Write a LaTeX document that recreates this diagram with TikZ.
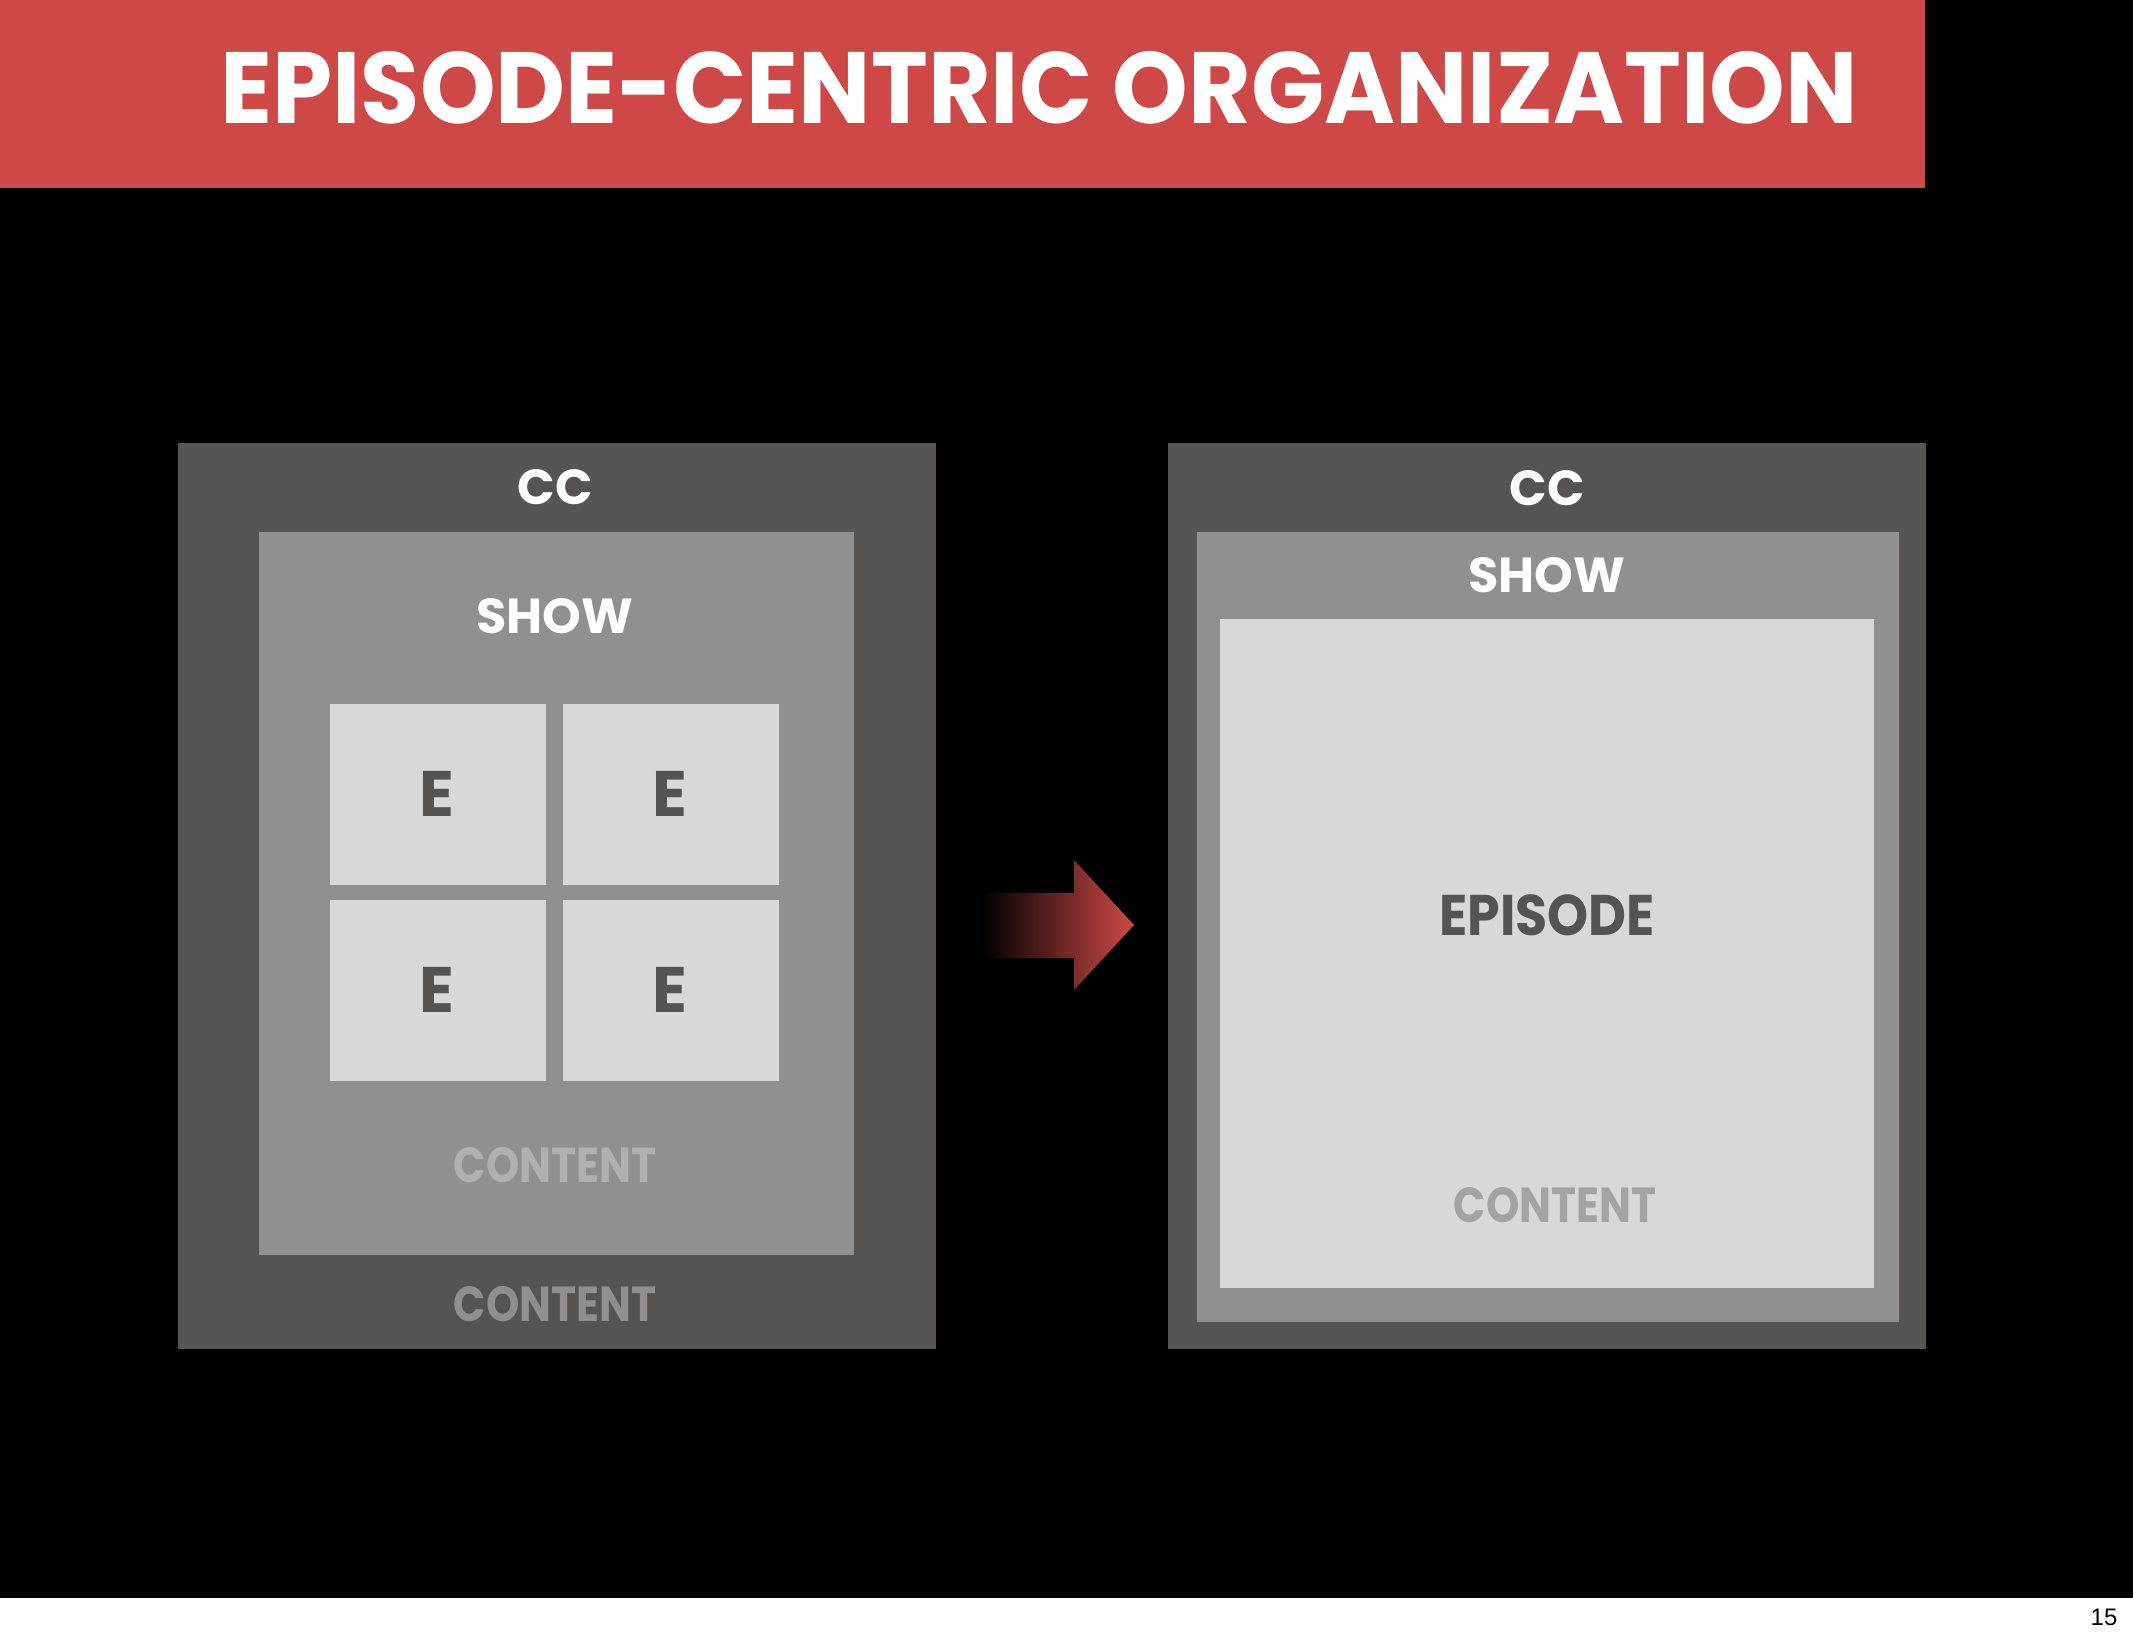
\documentclass[tikz,border=0pt]{standalone}
\usepackage{graphicx}
\usepackage{fontspec}
\setmainfont{Poppins}
\newfontfamily\pagefont{Liberation Sans}
\definecolor{slidered}{HTML}{CF4848}
\definecolor{ccgray}{HTML}{565452}
\definecolor{showgray}{HTML}{909090}
\definecolor{epgray}{HTML}{D8D8D8}
\newcommand{\narrow}[2]{\scalebox{#1}[1]{#2}}
\begin{document}
\begin{tikzpicture}[x = 0.01cm, y = -0.01cm,
        lbl/.style = {anchor = base, inner sep = 0pt, font = \bfseries\fontsize{14}{14}\selectfont},
        box/.style = {anchor = north west, inner sep = 0pt}]
                \useasboundingbox (0, 0) rectangle (2133, 1641);
                \fill[black] (0, 0) rectangle (2133, 1598);
                \fill[white] (0, 1598) rectangle (2133, 1641);
                \fill[slidered] (0, 0) rectangle (1925, 188);
                \node[lbl, white, font = \bfseries\fontsize{28.8}{28.8}\selectfont] (title) at (1039, 123) {\narrow{0.95}{EPISODE-CENTRIC ORGANIZATION}};
                \node[anchor = base, inner sep = 0pt, font = \pagefont\fontsize{6.8}{6.8}\selectfont] (page) at (2104, 1625) {15};

                % before
                \node[box, fill = ccgray, minimum width = 7.58cm, minimum height = 9.06cm] (CC1) at (177, 442) {};
                \node[box, fill = showgray, minimum width = 5.95cm, minimum height = 7.23cm] (S1) at (258, 531) {};
                \node[box, fill = epgray, minimum width = 2.16cm, minimum height = 1.81cm] (E1) at (329, 703) {};
                \node[box, fill = epgray, minimum width = 2.16cm, minimum height = 1.81cm] (E2) at (562, 703) {};
                \node[box, fill = epgray, minimum width = 2.16cm, minimum height = 1.81cm] (E3) at (329, 899) {};
                \node[box, fill = epgray, minimum width = 2.16cm, minimum height = 1.81cm] (E4) at (562, 899) {};
                \node[lbl, white] (cc1) at (555, 504) {CC};
                \node[lbl, white] (show1) at (555, 633) {SHOW};
                \foreach \n/\x/\y in {1/437/816, 2/670/816, 3/437/1012, 4/670/1012}
                    \node[lbl, ccgray, font = \bfseries\fontsize{18.3}{18.3}\selectfont] (e\n) at (\x, \y) {E};
                \node[lbl, color = {rgb,255:red,176;green,176;blue,176}] (content1) at (555, 1182) {\narrow{0.86}{CONTENT}};
                \node[lbl, color = {rgb,255:red,143;green,143;blue,143}] (content2) at (555, 1321) {\narrow{0.86}{CONTENT}};

                % arrow
                \shade[left color = black, right color = slidered]
                    (983, 893) -- (1074, 893) -- (1074, 860) -- (1134, 925) -- (1074, 990) -- (1074, 958) -- (983, 958) -- cycle;

                % after
                \node[box, fill = ccgray, minimum width = 7.58cm, minimum height = 9.06cm] (CC2) at (1167, 442) {};
                \node[box, fill = showgray, minimum width = 7.02cm, minimum height = 7.90cm] (S2) at (1196, 531) {};
                \node[box, fill = epgray, minimum width = 6.54cm, minimum height = 6.69cm] (EP) at (1219, 618) {};
                \node[lbl, white] (cc2) at (1547, 505) {CC};
                \node[lbl, white] (show2) at (1547, 592) {SHOW};
                \node[lbl, ccgray, font = \bfseries\fontsize{16.3}{16.3}\selectfont] (episode) at (1547, 935) {\narrow{0.91}{EPISODE}};
                \node[lbl, color = {rgb,255:red,163;green,163;blue,163}] (content3) at (1555, 1222) {\narrow{0.86}{CONTENT}};
            \end{tikzpicture}
\end{document}
